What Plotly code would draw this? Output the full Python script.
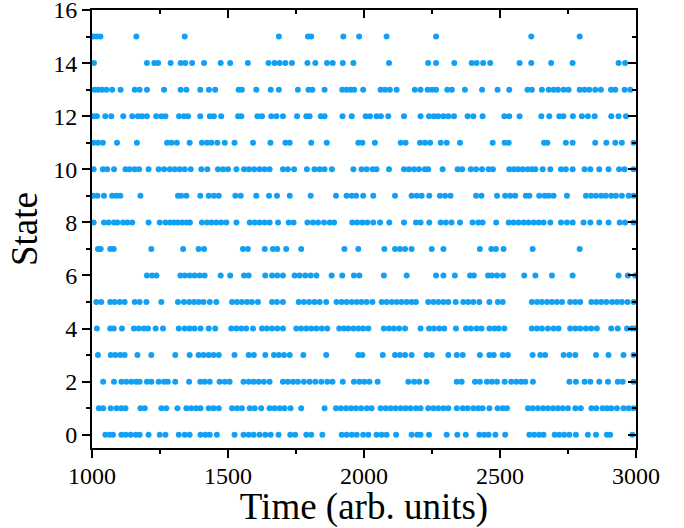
import plotly.graph_objects as go

# Times (arb. units) at which the system was observed in each state
t_state0 = [1049, 1065, 1077, 1108, 1124, 1142, 1161, 1175, 1208, 1249, 1270, 1319, 1341, 1359, 1399, 1417, 1433, 1459, 1524, 1557, 1576, 1594, 1616, 1637, 1657, 1686, 1729, 1747, 1788, 1806, 1847, 1918, 1936, 1955, 1973, 1997, 2016, 2046, 2065, 2083, 2118, 2175, 2196, 2208, 2239, 2304, 2343, 2374, 2424, 2442, 2458, 2483, 2519, 2608, 2626, 2644, 2660, 2701, 2718, 2736, 2755, 2779, 2823, 2853, 2893, 2905, 2987]
t_state1 = [1025, 1041, 1069, 1090, 1108, 1123, 1178, 1194, 1255, 1273, 1314, 1347, 1365, 1383, 1399, 1429, 1447, 1466, 1515, 1533, 1551, 1580, 1598, 1622, 1653, 1671, 1690, 1708, 1730, 1769, 1855, 1897, 1915, 1934, 1952, 1970, 1989, 2010, 2028, 2061, 2080, 2098, 2116, 2135, 2153, 2171, 2191, 2208, 2236, 2255, 2273, 2292, 2310, 2341, 2363, 2381, 2402, 2420, 2436, 2461, 2491, 2510, 2526, 2603, 2620, 2639, 2658, 2676, 2695, 2713, 2731, 2750, 2777, 2797, 2836, 2854, 2877, 2893, 2909, 2930, 2954, 2973, 2991]
t_state2 = [1041, 1081, 1108, 1126, 1145, 1163, 1175, 1202, 1218, 1245, 1265, 1279, 1306, 1357, 1398, 1414, 1433, 1469, 1488, 1506, 1557, 1576, 1594, 1613, 1632, 1653, 1702, 1720, 1739, 1757, 1779, 1800, 1821, 1843, 1865, 1884, 1922, 1963, 1983, 2001, 2020, 2050, 2163, 2184, 2203, 2230, 2341, 2359, 2408, 2426, 2452, 2470, 2489, 2517, 2541, 2560, 2578, 2593, 2621, 2755, 2779, 2811, 2832, 2865, 2897, 2933, 2951, 2991]
t_state3 = [1022, 1069, 1086, 1104, 1120, 1167, 1218, 1306, 1359, 1392, 1410, 1429, 1447, 1466, 1524, 1576, 1595, 1637, 1669, 1687, 1706, 1727, 1777, 1861, 1979, 1994, 2069, 2114, 2132, 2151, 2175, 2230, 2249, 2310, 2341, 2363, 2426, 2461, 2477, 2510, 2529, 2620, 2648, 2666, 2734, 2755, 2777, 2853, 2899, 2954, 2991]
t_state4 = [1018, 1067, 1080, 1110, 1154, 1172, 1191, 1206, 1234, 1261, 1319, 1341, 1359, 1377, 1399, 1429, 1453, 1512, 1531, 1549, 1567, 1592, 1625, 1643, 1662, 1681, 1702, 1751, 1769, 1788, 1806, 1825, 1845, 1865, 1909, 1926, 1942, 1961, 1979, 1997, 2016, 2073, 2092, 2110, 2129, 2151, 2208, 2239, 2257, 2277, 2295, 2338, 2375, 2393, 2414, 2432, 2461, 2479, 2495, 2516, 2617, 2636, 2654, 2676, 2697, 2715, 2758, 2777, 2795, 2816, 2835, 2856, 2909, 2933, 2967, 2985, 2997]
t_state5 = [1016, 1034, 1067, 1083, 1102, 1120, 1157, 1175, 1200, 1255, 1316, 1338, 1357, 1375, 1392, 1410, 1433, 1457, 1515, 1533, 1551, 1570, 1588, 1610, 1662, 1680, 1702, 1760, 1779, 1798, 1818, 1837, 1861, 1899, 1918, 1936, 1955, 1973, 1991, 2010, 2031, 2065, 2083, 2102, 2120, 2138, 2157, 2175, 2191, 2236, 2255, 2273, 2292, 2310, 2337, 2365, 2383, 2402, 2424, 2461, 2492, 2510, 2617, 2636, 2654, 2673, 2691, 2709, 2728, 2758, 2777, 2795, 2836, 2854, 2872, 2891, 2912, 2930, 2948, 2969, 2991]
t_state6 = [1202, 1221, 1237, 1325, 1341, 1359, 1377, 1396, 1414, 1473, 1508, 1559, 1576, 1637, 1662, 1681, 1702, 1745, 1763, 1784, 1804, 1825, 1881, 1920, 1963, 1983, 2073, 2157, 2265, 2292, 2334, 2390, 2404, 2456, 2470, 2489, 2511, 2589, 2630, 2691, 2767, 2936, 2970, 2997]
t_state7 = [1022, 1032, 1067, 1080, 1218, 1335, 1392, 1412, 1555, 1573, 1635, 1665, 1681, 1714, 1769, 1928, 1979, 2075, 2114, 2132, 2151, 2175, 2249, 2292, 2426, 2468, 2485, 2513, 2620, 2793]
t_state8 = [1006, 1044, 1061, 1081, 1093, 1114, 1130, 1148, 1208, 1249, 1270, 1286, 1301, 1316, 1332, 1348, 1360, 1404, 1423, 1439, 1457, 1475, 1494, 1531, 1580, 1598, 1616, 1635, 1653, 1684, 1723, 1741, 1792, 1812, 1831, 1853, 1874, 1890, 1957, 1975, 1994, 2012, 2034, 2059, 2093, 2147, 2191, 2208, 2240, 2282, 2301, 2322, 2353, 2399, 2420, 2436, 2486, 2532, 2550, 2568, 2587, 2605, 2624, 2642, 2660, 2685, 2724, 2746, 2767, 2807, 2832, 2865, 2899, 2940, 2960, 2991]
t_state9 = [1004, 1020, 1044, 1074, 1090, 1104, 1178, 1316, 1328, 1347, 1398, 1429, 1448, 1466, 1527, 1547, 1604, 1651, 1680, 1727, 1804, 1897, 1936, 1955, 1971, 1997, 2034, 2114, 2175, 2194, 2212, 2240, 2279, 2298, 2318, 2412, 2432, 2489, 2519, 2538, 2556, 2595, 2608, 2644, 2664, 2679, 2697, 2746, 2816, 2835, 2853, 2872, 2889, 2909, 2926, 2948, 2973, 2991]
t_state10 = [1006, 1040, 1056, 1081, 1123, 1138, 1157, 1173, 1208, 1245, 1265, 1286, 1304, 1322, 1341, 1363, 1402, 1424, 1463, 1482, 1500, 1531, 1559, 1577, 1596, 1616, 1635, 1653, 1702, 1720, 1743, 1790, 1818, 1837, 1855, 1882, 1961, 1991, 2010, 2032, 2046, 2092, 2147, 2165, 2184, 2202, 2224, 2236, 2289, 2344, 2361, 2393, 2412, 2434, 2458, 2474, 2534, 2550, 2566, 2583, 2601, 2617, 2630, 2657, 2685, 2724, 2742, 2767, 2811, 2832, 2865, 2899, 2938, 2958, 2991]
t_state11 = [1006, 1022, 1040, 1092, 1165, 1276, 1292, 1312, 1359, 1404, 1423, 1439, 1461, 1488, 1524, 1592, 1656, 1711, 1727, 1806, 1863, 1979, 1994, 2040, 2135, 2153, 2206, 2224, 2243, 2282, 2304, 2353, 2473, 2517, 2532, 2662, 2674, 2742, 2767, 2850, 2891, 2924, 2948, 2991]
t_state12 = [1006, 1018, 1049, 1071, 1115, 1148, 1169, 1184, 1202, 1236, 1255, 1270, 1320, 1338, 1353, 1398, 1433, 1448, 1475, 1537, 1549, 1608, 1625, 1659, 1678, 1702, 1754, 1788, 1800, 1841, 1855, 1921, 1955, 2006, 2022, 2046, 2062, 2089, 2147, 2208, 2239, 2257, 2273, 2292, 2310, 2331, 2381, 2402, 2436, 2516, 2534, 2572, 2652, 2681, 2718, 2733, 2768, 2801, 2823, 2848, 2909, 2936, 2963]
t_state13 = [1009, 1023, 1038, 1053, 1074, 1105, 1157, 1175, 1202, 1265, 1326, 1347, 1398, 1430, 1453, 1539, 1551, 1604, 1657, 1687, 1757, 1796, 1810, 1855, 1920, 1936, 1951, 1964, 1997, 2061, 2077, 2095, 2120, 2187, 2208, 2234, 2250, 2265, 2306, 2323, 2371, 2434, 2491, 2534, 2601, 2617, 2654, 2679, 2697, 2713, 2734, 2752, 2793, 2811, 2828, 2850, 2871, 2908, 2924, 2958, 2979]
t_state14 = [1007, 1202, 1229, 1243, 1289, 1326, 1343, 1368, 1412, 1473, 1508, 1573, 1649, 1671, 1690, 1711, 1735, 1792, 1821, 1864, 1885, 1922, 1961, 2092, 2236, 2265, 2332, 2396, 2414, 2438, 2464, 2572, 2615, 2688, 2767, 2936, 2960]
t_state15 = [1006, 1018, 1031, 1163, 1341, 1687, 1794, 1806, 1924, 1982, 2083, 2265, 2615, 2793]

state_times = [t_state0, t_state1, t_state2, t_state3, t_state4, t_state5, t_state6, t_state7,
               t_state8, t_state9, t_state10, t_state11, t_state12, t_state13, t_state14, t_state15]

x_ticks = [1000, 1500, 2000, 2500, 3000]
y_ticks = [0, 2, 4, 6, 8, 10, 12, 14, 16]

xs, ys = [], []
for s, ts in enumerate(state_times):
    xs.extend(ts)
    ys.extend([s] * len(ts))

FONT = "Liberation Serif"
DOT = "#12A0F5"

fig = go.Figure()
fig.add_trace(go.Scatter(x=xs, y=ys, mode="markers",
                         marker=dict(size=6, color=DOT, line=dict(width=0)),
                         cliponaxis=False, showlegend=False, hoverinfo="skip"))
# invisible trace to activate the mirrored top/right axes
fig.add_trace(go.Scatter(x=[1000], y=[0], xaxis="x2", yaxis="y2", mode="markers",
                         marker=dict(opacity=0), showlegend=False, hoverinfo="skip"))

axis_common = dict(showgrid=False, zeroline=False, showline=True, linecolor="black",
                   linewidth=2, tickcolor="black", tickwidth=2, ticklen=8, automargin=False,
                   ticklabeloverflow="allow",
                   tickfont=dict(family=FONT, size=24, color="black"))

X_RANGE = [1000, 3000.001]
Y_RANGE = [-0.5, 16.001]

fig.update_layout(
    width=684, height=528,
    margin=dict(l=92, r=48, t=10, b=80),
    plot_bgcolor="white", paper_bgcolor="white",
    font=dict(family=FONT, color="black"),
    xaxis=dict(range=X_RANGE, tickvals=x_ticks, ticks="outside", ticklabelstandoff=-3,
               minor=dict(dtick=250, ticklen=4, tickwidth=2, tickcolor="black", ticks="outside"),
               title=dict(text="Time (arb. units)", font=dict(family=FONT, size=37), standoff=2),
               **axis_common),
    yaxis=dict(range=Y_RANGE, tickvals=y_ticks, ticks="outside",
               minor=dict(dtick=1, tick0=0, ticklen=4, tickwidth=2, tickcolor="black", ticks="outside"),
               title=dict(text="State", font=dict(family=FONT, size=37), standoff=4),
               **axis_common),
    xaxis2=dict(range=X_RANGE, overlaying="x", side="top", tickvals=x_ticks,
                ticks="inside", showticklabels=False,
                minor=dict(dtick=250, ticklen=4, tickwidth=2, tickcolor="black", ticks="inside"),
                **axis_common),
    yaxis2=dict(range=Y_RANGE, overlaying="y", side="right", tickvals=y_ticks,
                ticks="inside", showticklabels=False,
                minor=dict(dtick=1, tick0=0, ticklen=4, tickwidth=2, tickcolor="black", ticks="inside"),
                **axis_common),
)

fig.write_html("out.html", config={"displayModeBar": False},
               post_script="document.body.style.margin='0';document.body.style.overflow='hidden';")
